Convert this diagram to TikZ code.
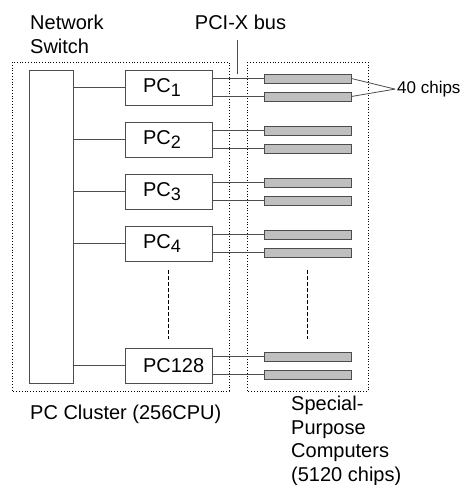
\documentclass[tikz,border=0pt]{standalone}
\usepackage{fontspec}
\setmainfont{Liberation Sans}
\newcommand{\pcname}[1]{PC\raisebox{-4pt}{\fontsize{18}{18}\selectfont #1}}
\tikzset{
	link/.style={draw=black!70, line width=0.8pt},
	swbox/.style={link, minimum width=44pt, minimum height=313pt, inner sep=0pt},
	pcbox/.style={link, fill=white, text width=69pt, align=left, inner xsep=9pt, inner ysep=0pt, minimum height=35pt},
	chipbox/.style={link, fill=black!25, minimum width=87pt, minimum height=9pt, inner sep=0pt},
	groupbox/.style={dotted, line width=0.8pt},
	gap/.style={dash pattern=on 4pt off 2pt, line width=1.2pt}
}

\begin{document}
\begin{tikzpicture}[x=1pt,y=-1pt, every node/.style={font=\fontsize{20}{24}\selectfont}]
	\useasboundingbox (0,0) rectangle (465,485);
	% groups
	\draw[groupbox] (12,62) rectangle (229,391);
	\draw[groupbox] (247,62) rectangle (368,391);
	% switch and PCs
	\node (sw) [swbox] at (51,226.5) {};
	\node (pc1) [pcbox] at (168.5,87.5) {\hspace*{9pt}\pcname{1}};
	\node (pc2) [pcbox] at (168.5,139.5) {\hspace*{9pt}\pcname{2}};
	\node (pc3) [pcbox] at (168.5,191.5) {\hspace*{9pt}\pcname{3}};
	\node (pc4) [pcbox] at (168.5,243.5) {\hspace*{9pt}\pcname{4}};
	\node (pc128) [pcbox] at (168.5,365.5) {\hspace*{9pt}PC128};
	% chips
	\node (c1a) [chipbox] at (307.5,78.5) {};
	\node (c1b) [chipbox] at (307.5,96.5) {};
	\node (c2a) [chipbox] at (307.5,130.5) {};
	\node (c2b) [chipbox] at (307.5,148.5) {};
	\node (c3a) [chipbox] at (307.5,182.5) {};
	\node (c3b) [chipbox] at (307.5,200.5) {};
	\node (c4a) [chipbox] at (307.5,234.5) {};
	\node (c4b) [chipbox] at (307.5,252.5) {};
	\node (c128a) [chipbox] at (307.5,356.5) {};
	\node (c128b) [chipbox] at (307.5,374.5) {};
	% labels
	\node (netsw) [anchor=north west, inner sep=0pt, align=left] at (30,15) {Network\\Switch};
	\node (bus) [anchor=base] at (240.5,29) {PCI-X bus};
	\node (forty) [anchor=base west, inner sep=2pt, font=\fontsize{17}{20}\selectfont] at (395,93.5) {40 chips};
	\node (cluster) [anchor=base west, inner sep=0pt] at (30,419) {PC Cluster (256CPU)};
	\node (spc) [anchor=north west, inner sep=0pt, align=left, font=\fontsize{20}{23.5}\selectfont] at (291,396) {Special-\\Purpose\\Computers\\(5120 chips)};
	\coordinate (bustop) at (237,40);
	\coordinate (busend) at (237,74);
	% connections
	\draw[link] (pc1.west) -- (pc1.west -| sw.east);
	\draw[link] (pc2.west) -- (pc2.west -| sw.east);
	\draw[link] (pc3.west) -- (pc3.west -| sw.east);
	\draw[link] (pc4.west) -- (pc4.west -| sw.east);
	\draw[link] (pc128.west) -- (pc128.west -| sw.east);
	\draw[link] (c1a.west) -- (c1a.west -| pc1.east);
	\draw[link] (c1b.west) -- (c1b.west -| pc1.east);
	\draw[link] (c2a.west) -- (c2a.west -| pc2.east);
	\draw[link] (c2b.west) -- (c2b.west -| pc2.east);
	\draw[link] (c3a.west) -- (c3a.west -| pc3.east);
	\draw[link] (c3b.west) -- (c3b.west -| pc3.east);
	\draw[link] (c4a.west) -- (c4a.west -| pc4.east);
	\draw[link] (c4b.west) -- (c4b.west -| pc4.east);
	\draw[link] (c128a.west) -- (c128a.west -| pc128.east);
	\draw[link] (c128b.west) -- (c128b.west -| pc128.east);
	\draw[link] (bustop) -- (busend);
	\draw[link] (c1a.east) -- (forty.west);
	\draw[link] (c1b.east) -- (forty.west);
	\draw[gap, shorten <=9pt, shorten >=9pt] (pc4.south) -- (pc128.north);
	\draw[gap, shorten <=13pt, shorten >=13pt] (c4b.south) -- (c128a.north);
\end{tikzpicture}
\end{document}
